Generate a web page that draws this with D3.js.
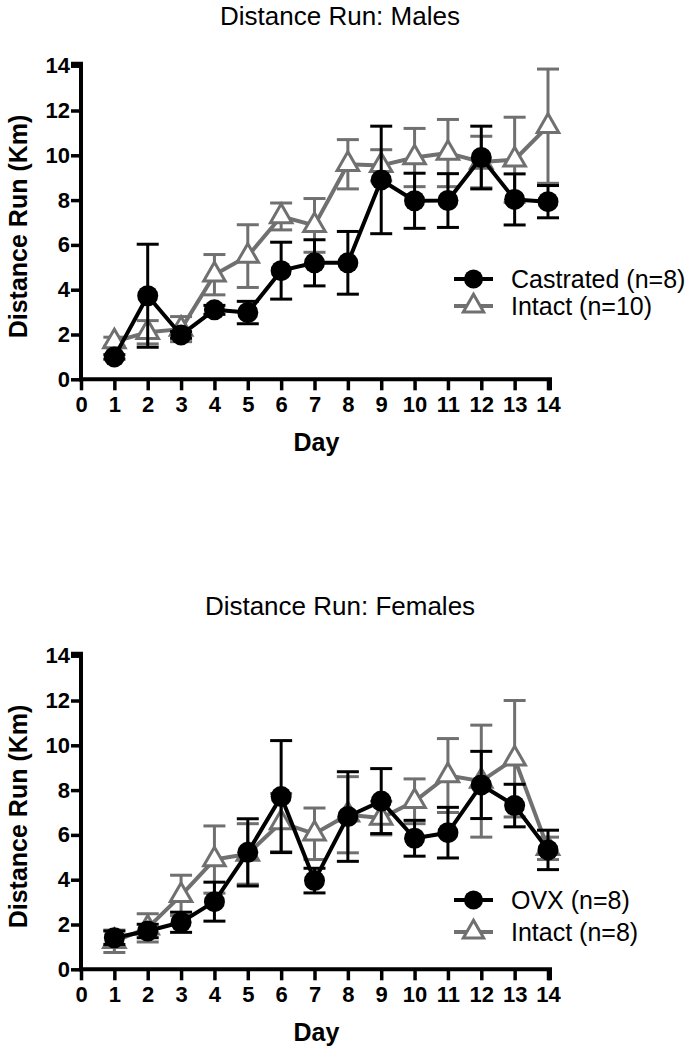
<!DOCTYPE html>
<html>
<head>
<meta charset="utf-8">
<script src="https://cdn.jsdelivr.net/npm/d3@7"></script>
<style>
  html, body { margin: 0; padding: 0; background: #fff; }
  svg { display: block; }
  text { font-family: "Liberation Sans", Arial, sans-serif; }
</style>
</head>
<body>
<svg id="chart" width="688" height="1050"></svg>
<script>
// ---------------- data ----------------
const days = [1, 2, 3, 4, 5, 6, 7, 8, 9, 10, 11, 12, 13, 14];
const xTicks = [0, 1, 2, 3, 4, 5, 6, 7, 8, 9, 10, 11, 12, 13, 14];
const yTicks = [0, 2, 4, 6, 8, 10, 12, 14];

// Males
const castratedMean = [1.0, 3.73, 1.98, 3.1, 2.98, 4.85, 5.2, 5.2, 8.9, 7.97, 7.98, 9.9, 8.03, 7.93];
const castratedSem  = [0.1, 2.3, 0.15, 0.2, 0.5, 1.27, 1.03, 1.4, 2.4, 1.23, 1.2, 1.4, 1.14, 0.72];
const maleIntactMean = [1.68, 2.1, 2.24, 4.67, 5.5, 7.27, 6.87, 9.6, 9.55, 9.9, 10.1, 9.7, 9.8, 11.3];
const maleIntactSem  = [0.2, 0.52, 0.56, 0.9, 1.4, 0.6, 1.2, 1.1, 0.7, 1.3, 1.5, 1.15, 1.9, 2.55];

// Females
const ovxMean = [1.41, 1.71, 2.1, 3.02, 5.22, 7.71, 3.96, 6.82, 7.51, 5.85, 6.1, 8.23, 7.31, 5.33];
const ovxSem  = [0.3, 0.3, 0.45, 0.87, 1.5, 2.5, 0.55, 2.0, 1.45, 0.8, 1.13, 1.5, 0.95, 0.88];
const femaleIntactMean = [1.25, 1.85, 3.3, 4.9, 5.15, 6.55, 6.05, 6.9, 6.75, 7.5, 8.65, 8.4, 9.4, 5.4];
const femaleIntactSem  = [0.5, 0.63, 0.9, 1.5, 1.35, 1.3, 1.15, 1.7, 0.75, 1.0, 1.65, 2.5, 2.6, 0.5];

const titles = ["Distance Run: Males", "Distance Run: Females"];
const yLabel = "Distance Run (Km)";
const xLabel = "Day";
const maleLegend = ["Castrated (n=8)", "Intact (n=10)"];
const femaleLegend = ["OVX (n=8)", "Intact (n=8)"];

// ---------------- drawing ----------------
const svg = d3.select("#chart");
const BLACK = "#000";
const GRAY = "#707070";

function panel(cfg) {
  const g = svg.append("g").attr("transform", `translate(0,${cfg.offsetY})`);
  const x = d3.scaleLinear().domain([0, 14]).range([81, 548]);
  const y = d3.scaleLinear().domain([0, 14]).range([379.3, 65.7]);

  // title
  g.append("text").attr("x", 340).attr("y", 25)
    .attr("text-anchor", "middle").attr("font-size", 26).attr("fill", "#000")
    .text(cfg.title);

  // axes
  const yAxis = g.append("g").attr("transform", `translate(${x(0)},0)`)
    .call(d3.axisLeft(y).tickValues(yTicks).tickSize(10).tickPadding(1).tickFormat(d3.format("d")));
  const xAxis = g.append("g").attr("transform", `translate(0,${y(0)})`)
    .call(d3.axisBottom(x).tickValues(xTicks).tickSize(11).tickPadding(6).tickFormat(d3.format("d")));
  [yAxis, xAxis].forEach(a => {
    a.select(".domain").attr("stroke", "#000").attr("stroke-width", 4);
    a.selectAll(".tick line").attr("stroke", "#000").attr("stroke-width", 3.5);
    a.selectAll(".tick text").attr("font-family", "Liberation Sans, Arial, sans-serif")
      .attr("font-size", 22).attr("font-weight", "bold").attr("fill", "#000");
  });
  yAxis.select(".domain").attr("d", `M0,${y(0) + 2}V${y(14) - 2}H-10`);
  xAxis.select(".domain").attr("d", `M${x(0) - 2},0H${x(14) + 2}V11`);

  // axis labels
  g.append("text").attr("transform", `translate(27,${(y(0) + y(14)) / 2 + 4}) rotate(-90)`)
    .attr("text-anchor", "middle").attr("font-size", 25).attr("font-weight", "bold")
    .text(yLabel);
  g.append("text").attr("x", (x(0) + x(14)) / 2 + 2).attr("y", y(0) + 72)
    .attr("text-anchor", "middle").attr("font-size", 25).attr("font-weight", "bold")
    .text(xLabel);

  const line = d3.line().x(d => x(d.day)).y(d => y(d.mean));

  function series(mean, sem, color, marker) {
    const data = days.map((d, i) => ({ day: d, mean: mean[i], sem: sem[i] }));
    const sg = g.append("g");
    // error bars
    const eb = sg.selectAll(".eb").data(data).enter().append("g");
    eb.append("line").attr("x1", d => x(d.day)).attr("x2", d => x(d.day))
      .attr("y1", d => y(d.mean + d.sem)).attr("y2", d => y(d.mean - d.sem))
      .attr("stroke", color).attr("stroke-width", 3);
    eb.append("line").attr("x1", d => x(d.day) - 11).attr("x2", d => x(d.day) + 11)
      .attr("y1", d => y(d.mean + d.sem)).attr("y2", d => y(d.mean + d.sem))
      .attr("stroke", color).attr("stroke-width", 3);
    eb.append("line").attr("x1", d => x(d.day) - 11).attr("x2", d => x(d.day) + 11)
      .attr("y1", d => y(d.mean - d.sem)).attr("y2", d => y(d.mean - d.sem))
      .attr("stroke", color).attr("stroke-width", 3);
    // line
    sg.append("path").datum(data).attr("d", line).attr("fill", "none")
      .attr("stroke", color).attr("stroke-width", 4).attr("stroke-linejoin", "round");
    // markers
    if (marker === "circle") {
      sg.selectAll(".m").data(data).enter().append("circle")
        .attr("cx", d => x(d.day)).attr("cy", d => y(d.mean)).attr("r", 10.5)
        .attr("fill", color);
    } else {
      const tri = d3.symbol().type(d3.symbolTriangle).size(200);
      sg.selectAll(".m").data(data).enter().append("path")
        .attr("d", tri).attr("transform", d => `translate(${x(d.day)},${y(d.mean)})`)
        .attr("fill", "#fff").attr("stroke", color).attr("stroke-width", 3);
    }
  }
  series(cfg.grayMean, cfg.graySem, GRAY, "triangle");
  series(cfg.blackMean, cfg.blackSem, BLACK, "circle");

  // legend
  const lg = g.append("g");
  const rows = [
    { label: cfg.legend[0], color: BLACK, marker: "circle", y: cfg.legendY[0] },
    { label: cfg.legend[1], color: GRAY, marker: "triangle", y: cfg.legendY[1] }
  ];
  rows.forEach(r => {
    lg.append("line").attr("x1", 454).attr("x2", 493).attr("y1", r.y).attr("y2", r.y)
      .attr("stroke", r.color).attr("stroke-width", 4);
    if (r.marker === "circle") {
      lg.append("circle").attr("cx", 473.5).attr("cy", r.y).attr("r", 9.5).attr("fill", r.color);
    } else {
      lg.append("path").attr("d", d3.symbol().type(d3.symbolTriangle).size(180))
        .attr("transform", `translate(473.5,${r.y})`)
        .attr("fill", "#fff").attr("stroke", r.color).attr("stroke-width", 3);
    }
    lg.append("text").attr("x", 511).attr("y", r.y + 9).attr("font-size", 25)
      .attr("fill", "#000").text(r.label);
  });
}

panel({ offsetY: 0, title: titles[0], blackMean: castratedMean, blackSem: castratedSem,
        grayMean: maleIntactMean, graySem: maleIntactSem, legend: maleLegend, legendY: [279, 306] });
panel({ offsetY: 590, title: titles[1], blackMean: ovxMean, blackSem: ovxSem,
        grayMean: femaleIntactMean, graySem: femaleIntactSem, legend: femaleLegend, legendY: [310, 342] });
</script>
</body>
</html>
